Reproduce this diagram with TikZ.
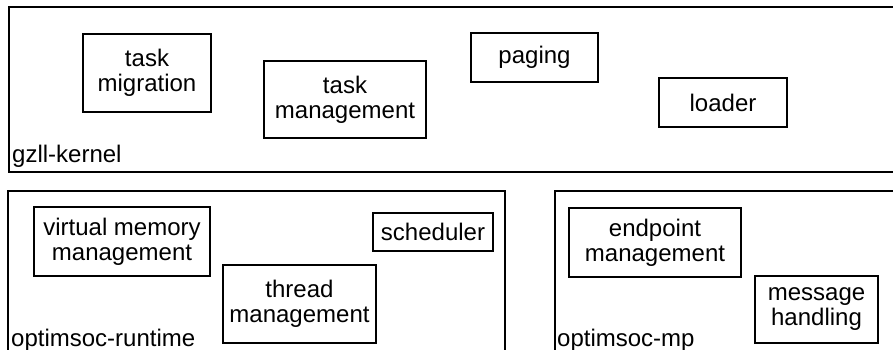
\documentclass[tikz,border=0pt]{standalone}
\usepackage{fontspec}
\setmainfont{Liberation Sans}
\begin{document}
\begin{tikzpicture}[x=1pt,y=-1pt,
    frame/.style={draw,line width=1.8pt},
    blk/.style={draw,line width=1.8pt,rectangle,align=center,inner sep=0pt,
        font=\fontsize{24}{25}\selectfont},
    lbl/.style={anchor=base west,inner sep=0pt,font=\fontsize{24}{25}\selectfont}]
        \useasboundingbox (0,0) rectangle (893,350);
        \clip (0,0) rectangle (893,350);
        %% Frames
        \coordinate (kernelNW) at (9,7);
        \coordinate (kernelSE) at (910,172);
        \coordinate (rtNW) at (8,191);
        \coordinate (rtSE) at (505,365);
        \coordinate (mpNW) at (555,191);
        \coordinate (mpSE) at (910,365);
        \draw[frame] (kernelNW) rectangle (kernelSE);
        \draw[frame] (rtNW) rectangle (rtSE);
        \draw[frame] (mpNW) rectangle (mpSE);
        \node[lbl] (kernel) at (12,162) {gzll-kernel};
        \node[lbl] (runtime) at (11,346) {optimsoc-runtime};
        \node[lbl] (mp) at (557,346) {optimsoc-mp};
        %% Kernel blocks
        \node[blk,minimum width=128,minimum height=78] (migration) at (147,73) {task\\migration};
        \node[blk,minimum width=162,minimum height=77] (taskmgmt) at (345,99.5) {task\\management};
        \node[blk,minimum width=127,minimum height=49] (paging) at (534.5,57.5) {paging};
        \node[blk,minimum width=128,minimum height=49] (loader) at (723,102.5) {loader};
        %% Runtime blocks
        \node[blk,minimum width=176,minimum height=69] (vmm) at (122,241.5) {virtual memory\\management};
        \node[blk,minimum width=120,minimum height=38] (sched) at (433,232) {scheduler};
        \node[blk,minimum width=153,minimum height=78] (thread) at (299.5,304) {thread\\management};
        %% MP blocks
        \node[blk,minimum width=172,minimum height=69] (endpoint) at (655,242.5) {endpoint\\management};
        \node[blk,minimum width=123,minimum height=67] (msg) at (816.5,309.5) {message\\handling};
    \end{tikzpicture}
\end{document}
